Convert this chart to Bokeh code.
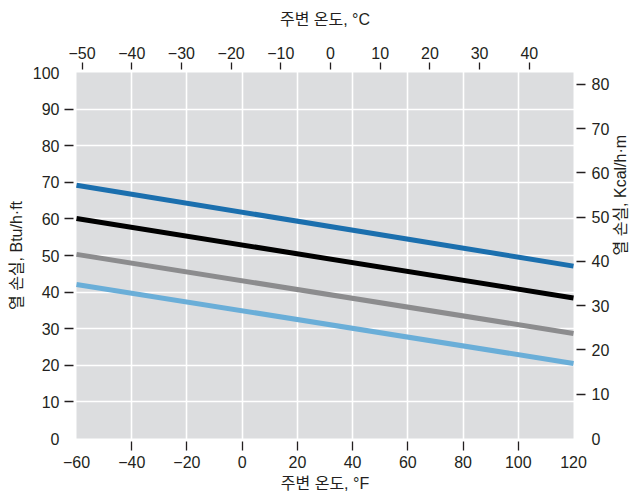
import math
from bokeh.plotting import figure
from bokeh.models import Range1d, LinearAxis, FixedTicker
from bokeh.embed import file_html
from bokeh.resources import INLINE

# ---- data ----
temp_f = [-60, 120]
loss_dark_blue = [69.2, 47.1]
loss_black = [60.1, 38.4]
loss_gray = [50.3, 28.7]
loss_light_blue = [42.1, 20.5]

f_ticks = [-60, -40, -20, 0, 20, 40, 60, 80, 100, 120]
btu_ticks = [0, 10, 20, 30, 40, 50, 60, 70, 80, 90, 100]
c_ticks = [-50, -40, -30, -20, -10, 0, 10, 20, 30, 40]
kcal_ticks = [0, 10, 20, 30, 40, 50, 60, 70, 80]

x_label = "주변 온도, °F"
x2_label = "주변 온도, °C"
y_label = "열 손실, Btu/h·ft"
y2_label = "열 손실, Kcal/h·m"

BTU_TO_KCAL = 0.251996 / 0.3048

# ---- layout ----
W, H = 640, 499
BL, BR, BT, BB = 73, 64, 69, 58
PAD = 3
FW = W - BL - BR
FH = H - BT - BB

x_min, x_max = f_ticks[0], f_ticks[-1]
y_min, y_max = btu_ticks[0], btu_ticks[-1]
xpad = PAD * (x_max - x_min) / (FW - 2 * PAD)
ypad = PAD * (y_max - y_min) / (FH - 2 * PAD)
x_lo, x_hi = x_min - xpad, x_max + xpad
y_lo, y_hi = y_min - ypad, y_max + ypad

FONT = "Liberation Sans, Noto Sans CJK KR"
TXT = "#231f20"
FS = "16px"
TFS = "16px"

p = figure(width=W, height=H, output_backend="svg", toolbar_location=None,
           x_range=Range1d(x_lo, x_hi), y_range=Range1d(y_lo, y_hi),
           min_border_left=BL, min_border_right=BR, min_border_top=BT, min_border_bottom=BB,
           x_axis_location=None, y_axis_location=None)
p.outline_line_color = None
p.background_fill_color = "white"
p.border_fill_color = "white"

p.extra_x_ranges = {"c": Range1d((x_lo - 32) / 1.8, (x_hi - 32) / 1.8)}
p.extra_y_ranges = {"k": Range1d(y_lo * BTU_TO_KCAL, y_hi * BTU_TO_KCAL)}

def fmt(v):
    return ("\u2212" + str(abs(v))) if v < 0 else str(v)

def style(ax, ticks, minor, tick_len, standoff, title_standoff):
    ax.ticker = FixedTicker(ticks=ticks, minor_ticks=minor)
    ax.major_label_overrides = {t: fmt(t) for t in ticks}
    ax.axis_line_color = None
    ax.major_tick_out = 0
    ax.major_tick_in = 0
    ax.minor_tick_out = tick_len
    ax.minor_tick_in = 0
    ax.minor_tick_line_color = TXT
    ax.minor_tick_line_width = 1.3
    ax.major_label_standoff = standoff
    ax.major_label_text_font = FONT
    ax.major_label_text_font_size = FS
    ax.major_label_text_color = TXT
    ax.axis_label_standoff = title_standoff
    ax.axis_label_text_font = FONT
    ax.axis_label_text_font_size = TFS
    ax.axis_label_text_font_style = "normal"
    ax.axis_label_text_color = TXT

bottom = LinearAxis(axis_label=x_label)
style(bottom, f_ticks, f_ticks[1:-1], 9, 5, 4)
p.add_layout(bottom, "below")

left = LinearAxis(axis_label=y_label)
style(left, btu_ticks, btu_ticks[1:-1], 9, 5, 5)
p.add_layout(left, "left")

top = LinearAxis(x_range_name="c", axis_label=x2_label)
style(top, c_ticks, c_ticks, 7, 4, 16)
p.add_layout(top, "above")

right = LinearAxis(y_range_name="k", axis_label=y2_label)
style(right, kcal_ticks, kcal_ticks[1:], 9, 6, 8)
try:
    right.axis_label_orientation = math.pi / 2
except Exception:
    pass
p.add_layout(right, "right")

# plot area background
p.quad(left=[x_min], right=[x_max], bottom=[y_min], top=[y_max],
       fill_color="#dcdddf", line_color=None, level="image")

p.xgrid.ticker = FixedTicker(ticks=f_ticks[1:-1])
p.ygrid.ticker = FixedTicker(ticks=btu_ticks[1:-1])
for g in (p.xgrid, p.ygrid):
    g.grid_line_color = "white"
    g.grid_line_width = 1.6

for ys, col in ((loss_dark_blue, "#1b6fae"), (loss_black, "#000000"),
                (loss_gray, "#8c8c8e"), (loss_light_blue, "#6aaed8")):
    p.line(temp_f, ys, line_color=col, line_width=5)

open("out.html", "w").write(file_html(p, INLINE))
